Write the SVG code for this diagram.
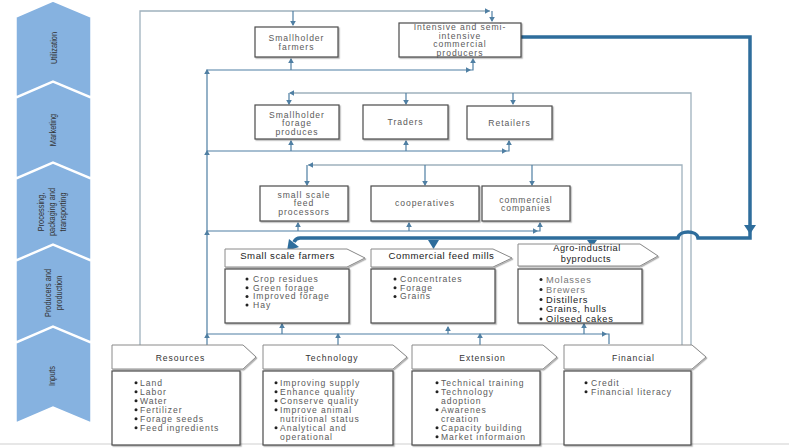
<svg xmlns="http://www.w3.org/2000/svg" width="789" height="448" viewBox="0 0 789 448">
<defs>
<style>
.stage{fill:#86b2e0;stroke:#fff;stroke-width:1.5}
.sl{font-family:"Liberation Sans",Arial,sans-serif;font-size:9.5px;fill:#333;text-anchor:middle}
.box{fill:#fff;stroke:#4a4a4a;stroke-width:1.2}
.hdr{fill:#fff;stroke:#8a8a8a;stroke-width:1}
.t{font-family:"Liberation Sans",Arial,sans-serif;font-size:8.6px;letter-spacing:0.95px;fill:#5a5a5a}
.c{text-anchor:middle}
.h{font-size:9.6px;fill:#222;letter-spacing:0.55px}
.d{fill:#333}
.conn{stroke:#4f7fa3;stroke-width:1.2;fill:none}
.frame{stroke:#9fb1bd;stroke-width:1.3;fill:none}
.thick{stroke:#2e6d9c;stroke-width:3.5;fill:none}
.ah{fill:#4f7fa3}
.tah{fill:#2e6d9c}
.b{fill:#222}
</style>
<path id="ah" d="M0,0 L-2.8,-5 L2.8,-5 Z"/>
<filter id="sh" x="-5%" y="-5%" width="115%" height="125%"><feDropShadow dx="1.2" dy="1.2" stdDeviation="0.6" flood-color="#000" flood-opacity="0.3"/></filter>
</defs>
<rect width="789" height="448" fill="#fff"/>
<line x1="0" y1="444" x2="789" y2="444" stroke="#cfcfcf" stroke-width="1"/>

<g id="stages">
<g id="stage-utilization"><polygon class="stage" points="16,17 53,1 91,17 91,97 53,81 16,97"/><text class="sl" transform="translate(57,48) rotate(-90) scale(0.78,1)">Utilization</text></g>
<g id="stage-marketing"><polygon class="stage" points="16,98 53,82 91,98 91,178 53,162 16,178"/><text class="sl" transform="translate(56,130) rotate(-90) scale(0.78,1)">Marketing</text></g>
<g id="stage-processing"><polygon class="stage" points="16,179 53,163 91,179 91,260 53,244 16,260"/>
<text class="sl" transform="translate(44,212) rotate(-90) scale(0.78,1)">Processing,</text>
<text class="sl" transform="translate(55,212) rotate(-90) scale(0.78,1)">packaging and</text>
<text class="sl" transform="translate(66,212) rotate(-90) scale(0.78,1)">transporting</text></g>
<g id="stage-producers"><polygon class="stage" points="16,261 53,245 91,261 91,342 53,326 16,342"/>
<text class="sl" transform="translate(51,293) rotate(-90) scale(0.78,1)">Producers and</text>
<text class="sl" transform="translate(62,293) rotate(-90) scale(0.78,1)">production</text></g>
<g id="stage-inputs"><polygon class="stage" points="16,343 53,327 91,343 91,423 53,407 16,423"/><text class="sl" transform="translate(55,376) rotate(-90) scale(0.78,1)">Inputs</text></g>
</g>

<g id="connectors">
<path class="frame" d="M140,345 V11 H490"/>
<path class="frame" d="M691,345 V93 H290"/>
<path class="frame" d="M682,345 V165 H308"/>
<path class="conn" d="M492,11 V21"/>
<path class="conn" d="M293,11 V25"/>
<path class="conn" d="M207,345 V70 H473 V60"/>
<path class="conn" d="M291,70 V59"/>
<path class="conn" d="M289,93 V104 M406,93 V104 M513,93 V104"/>
<path class="conn" d="M207,151 H509 V141 M291,151 V141 M406,151 V141"/>
<path class="conn" d="M307,165 V185 M425,165 V185 M532,165 V185"/>
<path class="conn" d="M207,231 H540 V223 M298,231 V223 M409,231 V223"/>
<path class="conn" d="M207,334 H609 V344 M282,334 V324 M338,345 V334 M448,334 V327 M480,345 V334 M584,334 V324"/>
<g class="ah">
<use href="#ah" transform="translate(490,11) rotate(-90)"/>
<use href="#ah" transform="translate(492,22)"/>
<use href="#ah" transform="translate(293,26)"/>
<use href="#ah" transform="translate(207,69) rotate(180)"/>
<use href="#ah" transform="translate(291,58) rotate(180)"/>
<use href="#ah" transform="translate(471,70) rotate(-90)"/>
<use href="#ah" transform="translate(473,58) rotate(180)"/>
<use href="#ah" transform="translate(289,93) rotate(90)"/>
<use href="#ah" transform="translate(289,105)"/>
<use href="#ah" transform="translate(406,105)"/>
<use href="#ah" transform="translate(513,105)"/>
<use href="#ah" transform="translate(207,150) rotate(180)"/>
<use href="#ah" transform="translate(291,140) rotate(180)"/>
<use href="#ah" transform="translate(406,140) rotate(180)"/>
<use href="#ah" transform="translate(507,151) rotate(-90)"/>
<use href="#ah" transform="translate(509,140) rotate(180)"/>
<use href="#ah" transform="translate(308,165) rotate(90)"/>
<use href="#ah" transform="translate(307,186)"/>
<use href="#ah" transform="translate(425,186)"/>
<use href="#ah" transform="translate(532,186)"/>
<use href="#ah" transform="translate(207,230) rotate(180)"/>
<use href="#ah" transform="translate(298,222) rotate(180)"/>
<use href="#ah" transform="translate(409,222) rotate(180)"/>
<use href="#ah" transform="translate(538,231) rotate(-90)"/>
<use href="#ah" transform="translate(540,222) rotate(180)"/>
<use href="#ah" transform="translate(207,333) rotate(180)"/>
<use href="#ah" transform="translate(282,323) rotate(180)"/>
<use href="#ah" transform="translate(338,333) rotate(180)"/>
<use href="#ah" transform="translate(448,326) rotate(180)"/>
<use href="#ah" transform="translate(480,333) rotate(180)"/>
<use href="#ah" transform="translate(584,323) rotate(180)"/>
<use href="#ah" transform="translate(607,334) rotate(-90)"/>
</g>
<path class="thick" d="M521,37 H750 V238 H698 C697,230 679,230 678,238 H300 Q296,238 294,242"/>
<g class="tah">
<polygon points="744,225 756,225 750,234"/>
<polygon points="587,240 597,240 592,247"/>
<polygon points="428,240 439,240 433.5,249"/>
<polygon points="287,251 289,239 299,247"/>
</g>
</g>

<g id="smallholder-farmers"><rect class="box" filter="url(#sh)" x="255" y="27" width="83" height="30"/>
<text class="t c" x="296.5" y="41">Smallholder</text><text class="t c" x="296.5" y="50">farmers</text></g>
<g id="intensive-producers"><rect class="box" filter="url(#sh)" x="399" y="23" width="122" height="34"/>
<text class="t c" x="460" y="30">Intensive and semi-</text><text class="t c" x="460" y="38.5">intensive</text><text class="t c" x="460" y="47">commercial</text><text class="t c" x="460" y="55.5">producers</text></g>

<g id="smallholder-forage"><rect class="box" filter="url(#sh)" x="255" y="105" width="84" height="34"/>
<text class="t c" x="297" y="117.5">Smallholder</text><text class="t c" x="297" y="126">forage</text><text class="t c" x="297" y="134.5">produces</text></g>
<g id="traders"><rect class="box" filter="url(#sh)" x="363" y="105" width="85" height="34"/><text class="t c" x="405.5" y="125">Traders</text></g>
<g id="retailers"><rect class="box" filter="url(#sh)" x="467" y="106" width="85" height="33"/><text class="t c" x="509.5" y="126">Retailers</text></g>

<g id="small-scale-processors"><rect class="box" filter="url(#sh)" x="260" y="186" width="88" height="35"/>
<text class="t c" x="304" y="197.5">small scale</text><text class="t c" x="304" y="206">feed</text><text class="t c" x="304" y="214.5">processors</text></g>
<g id="cooperatives"><rect class="box" filter="url(#sh)" x="371" y="186" width="108" height="35"/><text class="t c" x="425" y="206">cooperatives</text></g>
<g id="commercial-companies"><rect class="box" filter="url(#sh)" x="482" y="186" width="88" height="35"/>
<text class="t c" x="526" y="202.5">commercial</text><text class="t c" x="526" y="211">companies</text></g>

<g id="small-scale-farmers">
<polygon class="hdr" filter="url(#sh)" points="225,249 347,249 365,258 347,267 225,267"/>
<text class="t h c" x="287.5" y="259">Small scale farmers</text>
<rect class="box" filter="url(#sh)" x="225" y="269" width="124" height="54"/>
<g class="b"><circle cx="247" cy="279" r="1.5"/><circle cx="247" cy="287.7" r="1.5"/><circle cx="247" cy="296.4" r="1.5"/><circle cx="247" cy="305.1" r="1.5"/></g>
<text class="t" x="253" y="282">Crop residues</text><text class="t" x="253" y="290.7">Green forage</text><text class="t" x="253" y="299.4">Improved forage</text><text class="t" x="253" y="308.1">Hay</text>
</g>
<g id="commercial-feed-mills">
<polygon class="hdr" filter="url(#sh)" points="371,249 493,249 512,258 493,267 371,267"/>
<text class="t h c" x="441.5" y="259">Commercial feed mills</text>
<rect class="box" filter="url(#sh)" x="371" y="269" width="124" height="54"/>
<g class="b"><circle cx="395" cy="279" r="1.5"/><circle cx="395" cy="287.7" r="1.5"/><circle cx="395" cy="296.4" r="1.5"/></g>
<text class="t" x="400" y="282">Concentrates</text><text class="t" x="400" y="290.7">Forage</text><text class="t" x="400" y="299.4">Grains</text>
</g>
<g id="agro-industrial">
<polygon class="hdr" filter="url(#sh)" points="518,244 640,244 658,256 640,266 518,266"/>
<text class="t h c" x="587" y="251" style="font-size:9.2px">Agro-industrial</text><text class="t h c" x="586" y="261.5" style="font-size:9.2px">byproducts</text>
<rect class="box" filter="url(#sh)" x="518" y="269" width="124" height="54"/>
<g class="b"><circle cx="541" cy="279.5" r="1.5"/><circle cx="541" cy="289.5" r="1.5"/><circle cx="541" cy="299.5" r="1.5"/><circle cx="541" cy="309" r="1.5"/><circle cx="541" cy="319" r="1.5"/></g>
<text class="t" x="546" y="282.5" style="font-size:9.3px;fill:#777;letter-spacing:0.8px">Molasses</text>
<text class="t" x="546" y="292.5" style="font-size:9.3px;fill:#777;letter-spacing:0.8px">Brewers</text>
<text class="t" x="546" y="302.5" style="font-size:9.3px;fill:#222;letter-spacing:0.7px">Distillers</text>
<text class="t" x="546" y="312" style="font-size:9.3px;fill:#222;letter-spacing:0.7px">Grains, hulls</text>
<text class="t" x="546" y="322" style="font-size:9.3px;fill:#222;letter-spacing:0.7px">Oilseed cakes</text>
</g>

<g id="resources">
<polygon class="hdr" filter="url(#sh)" points="112,345 243,345 256,357 243,369 112,369"/>
<text class="t c d" x="180.5" y="361">Resources</text>
<rect class="box" filter="url(#sh)" x="112" y="371" width="128" height="74"/>
<g class="b"><circle cx="136" cy="382.7" r="1.5"/><circle cx="136" cy="391.7" r="1.5"/><circle cx="136" cy="400.7" r="1.5"/><circle cx="136" cy="409.7" r="1.5"/><circle cx="136" cy="418.7" r="1.5"/><circle cx="136" cy="427.7" r="1.5"/></g>
<text class="t" x="140" y="385.7">Land</text><text class="t" x="140" y="394.7">Labor</text><text class="t" x="140" y="403.7">Water</text><text class="t" x="140" y="412.7">Fertilizer</text><text class="t" x="140" y="421.7">Forage seeds</text><text class="t" x="140" y="430.7">Feed ingredients</text>
</g>
<g id="technology">
<polygon class="hdr" filter="url(#sh)" points="263,345 393,345 407,357 393,369 263,369"/>
<text class="t c d" x="332" y="361">Technology</text>
<rect class="box" filter="url(#sh)" x="263" y="371" width="130" height="74"/>
<g class="b"><circle cx="276" cy="382.7" r="1.5"/><circle cx="276" cy="391.7" r="1.5"/><circle cx="276" cy="400.7" r="1.5"/><circle cx="276" cy="409.7" r="1.5"/><circle cx="276" cy="427.7" r="1.5"/></g>
<text class="t" x="280" y="385.7">Improving supply</text><text class="t" x="280" y="394.7">Enhance quality</text><text class="t" x="280" y="403.7">Conserve quality</text><text class="t" x="280" y="412.7">Improve animal</text><text class="t" x="280" y="421.7">nutritional status</text><text class="t" x="280" y="430.7">Analytical and</text><text class="t" x="280" y="439.7">operational</text>
</g>
<g id="extension">
<polygon class="hdr" filter="url(#sh)" points="412,345 543,345 557,357 543,369 412,369"/>
<text class="t c d" x="482.5" y="361">Extension</text>
<rect class="box" filter="url(#sh)" x="412" y="371" width="128" height="74"/>
<g class="b"><circle cx="437" cy="382.7" r="1.5"/><circle cx="437" cy="391.7" r="1.5"/><circle cx="437" cy="409.7" r="1.5"/><circle cx="437" cy="427.7" r="1.5"/><circle cx="437" cy="436.7" r="1.5"/></g>
<text class="t" x="441" y="385.7">Technical training</text><text class="t" x="441" y="394.7">Technology</text><text class="t" x="441" y="403.7">adoption</text><text class="t" x="441" y="412.7">Awarenes</text><text class="t" x="441" y="421.7">creation</text><text class="t" x="441" y="430.7">Capacity building</text><text class="t" x="441" y="439.7">Market informaion</text>
</g>
<g id="financial">
<polygon class="hdr" filter="url(#sh)" points="564,345 692,345 706,357 692,369 564,369"/>
<text class="t c d" x="633.5" y="361">Financial</text>
<rect class="box" filter="url(#sh)" x="564" y="371" width="127" height="74"/>
<g class="b"><circle cx="586" cy="382.7" r="1.5"/><circle cx="586" cy="391.7" r="1.5"/></g>
<text class="t" x="591" y="385.7">Credit</text><text class="t" x="591" y="394.7">Financial literacy</text>
</g>
</svg>
